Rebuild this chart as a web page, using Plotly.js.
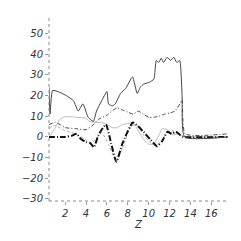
<!DOCTYPE html>
<html><head><meta charset="utf-8">
<script src="https://cdn.plot.ly/plotly-3.0.1.min.js"></script>
<style>html,body{margin:0;padding:0;background:#fff;}#c{width:241px;height:241px;}</style>
</head><body><div id="c"></div>
<script>
// Series data
const s1x = [0.45,0.55,0.8,1.5,2.1,2.8,3.25,3.7,4.2,4.7,5.0,5.5,6.0,6.15,6.5,6.8,7.3,7.8,8.45,8.9,9.2,9.5,10.1,10.5,10.73,10.96,11.2,11.43,11.76,12.1,12.4,12.7,12.97,13.2,13.45,17.6];
const s1y = [24,11,22.5,21.5,20,17.5,12.5,16,9.5,7.5,12.5,17.5,22,16,15,16,21,23.5,29,21,24,25.5,26.5,28,37,36,38,36,38.5,37,38.5,36,37,20,0,0];

const s2x = [0.45,1,2,2.6,3.1,3.5,4.0,4.4,4.75,5.2,5.9,6.4,6.9,7.5,8.5,9.5,10.2,10.8,11.3,11.8,12.2,12.6,13.0,13.3,17.6];
const s2y = [0,0,0,0.5,1.5,-1,-2.5,-3,-5,1,6,-3,-12,-3,7,2.5,-1.5,-4.5,-2,2.5,1.5,2.5,1,0,0];

const s3x = [0.45,1,1.5,2,3,4,4.3,5,5.5,6,6.5,7,7.5,8,8.5,9,9.5,10,10.5,11,11.3,11.8,12.3,12.8,13.2,13.5,17.6];
const s3y = [0,4,8.5,9.8,9.5,9,7.5,7,7,6,4.5,4.5,6,6.5,7,3,-1,-3.5,-3.5,1,4,3.5,1,1.5,0.5,0,0];

const s4x = [0.45,1,1.5,2,3,4,4.6,5.2,6,6.6,7,7.5,8,8.5,9,9.5,10,10.5,11,11.5,12,12.5,13,13.2,13.5,17.6];
const s4y = [6,7,6,4.5,4,3.5,5.5,8.5,10.5,13,14,13,12,11,12.5,11,9.5,9.5,10,11,11.5,12.5,16,18,1.5,1.5];

const s5x = [0.45,1,2,3,4,4.3,4.8,5.5,6.2,6.9,7.5,8.3,8.8,9.5,10.2,10.8,11.3,11.8,12.3,12.8,13.2,17.6];
const s5y = [4,5.5,3,1.5,-1.5,-3,-2,2,-4,-12,-5,5,6,1,-3,-4,-1,2,3,2,0.5,0];

const yTicks = [-30,-20,-10,0,10,20,30,40,50];
const xTicks = [2,4,6,8,10,12,14,16];

const sp = {shape:'spline', smoothing:0.5};
const traces = [
  {x:s5x, y:s5y, mode:'lines', line:Object.assign({color:'#aaaaaa', width:1, dash:'3px,2px'}, sp)},
  {x:s3x, y:s3y, mode:'lines', line:Object.assign({color:'#bbbbbb', width:1}, sp)},
  {x:s4x, y:s4y, mode:'lines', line:Object.assign({color:'#444444', width:1, dash:'4px,2px,1px,2px'}, sp)},
  {x:s2x, y:s2y, mode:'lines', line:Object.assign({color:'#111111', width:2, dash:'6px,2px,1px,2px'}, sp)},
  {x:s1x, y:s1y, mode:'lines', line:Object.assign({color:'#444444', width:1}, sp)}
];

const tf = {family:'DejaVu Sans', size:10, color:'#333', style:'italic'};
const layout = {
  width:241, height:241,
  margin:{l:49, r:13, t:17, b:40},
  paper_bgcolor:'#fff', plot_bgcolor:'#fff',
  showlegend:false,
  xaxis:{range:[0.45,17.6], showgrid:false, zeroline:false, showline:false,
         tickmode:'array', tickvals:xTicks, ticktext:xTicks.map(String),
         ticks:'outside', ticklen:3, tickcolor:'#999', tickfont:tf,
         title:{text:'Z', font:tf, standoff:2}},
  yaxis:{range:[-31,58], showgrid:false, zeroline:false, showline:false,
         tickmode:'array', tickvals:yTicks, ticktext:yTicks.map(v=>v<0?'\u2212'+Math.abs(v):String(v)),
         ticks:'outside', ticklen:3, tickcolor:'#999', tickfont:tf},
  shapes:[
    {type:'line', xref:'paper', yref:'paper', x0:0, x1:1, y0:0, y1:0, line:{color:'#888', width:1, dash:'dot'}},
    {type:'line', xref:'paper', yref:'paper', x0:0, x1:0, y0:0, y1:1, line:{color:'#888', width:1, dash:'dot'}}
  ]
};
Plotly.newPlot('c', traces, layout, {staticPlot:true, displayModeBar:false});
</script></body></html>
